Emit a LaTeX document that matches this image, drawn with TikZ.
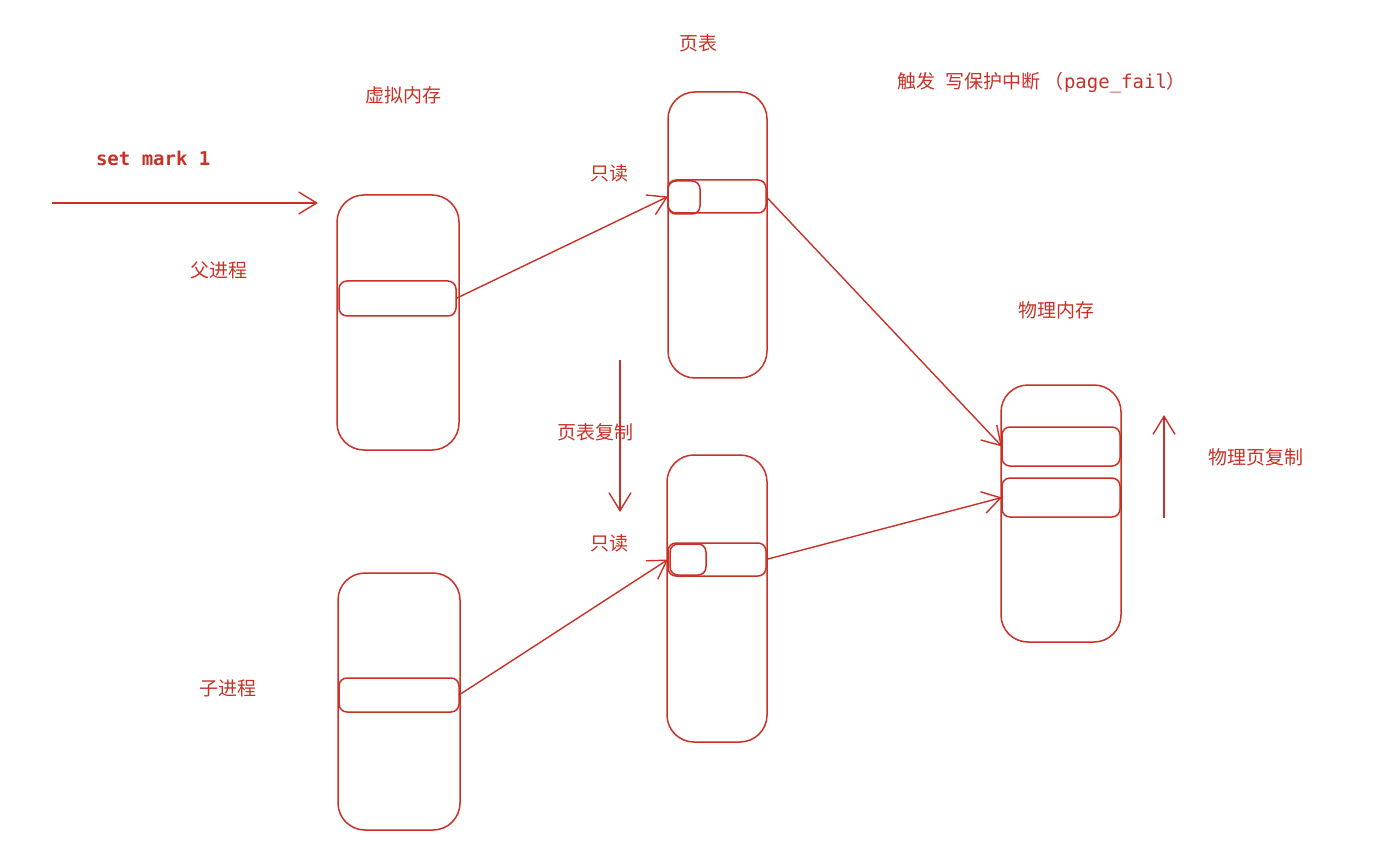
\documentclass[tikz,border=0pt]{standalone}
\usepackage{fontspec}
\newfontfamily\cjk{Noto Sans CJK SC}
\newfontfamily\mono{DejaVu Sans Mono}
\usetikzlibrary{arrows.meta}
\definecolor{ink}{RGB}{201,48,38}

\begin{document}
\begin{tikzpicture}[x=1pt,y=-1pt,
  every node/.style={inner sep=0pt, outer sep=0pt},
  mem/.style={draw=ink, line width=1.5pt, rounded corners=27pt},
  slot/.style={draw=ink, line width=1.5pt, rounded corners=8pt},
  lbl/.style={text=ink, font=\cjk\fontsize{19}{22}\selectfont},
  arr/.style={draw=ink, line width=1.4pt, -{Straight Barb[length=18pt,width=22pt,line width=1.4pt]}}]
\useasboundingbox (0,0) rectangle (1374,850);

% virtual memory
\node[mem, minimum width=122pt, minimum height=255pt] (vpar) at (398,322.5) {};
\node[slot, minimum width=117pt, minimum height=35pt] (vpars) at (397.5,298.5) {};
\node[mem, minimum width=122pt, minimum height=257pt] (vchd) at (399,701.5) {};
\node[slot, minimum width=120pt, minimum height=34pt] (vchds) at (399,695) {};

% page tables
\node[mem, minimum width=99pt, minimum height=286pt] (ptop) at (717.5,235) {};
\node[slot, minimum width=98pt, minimum height=33pt] (ptops) at (717,196.5) {};
\node[slot, minimum width=32pt, minimum height=33pt] (ptopk) at (684,197.5) {};
\node[mem, minimum width=100pt, minimum height=287pt] (pbot) at (717,598.5) {};
\node[slot, minimum width=98pt, minimum height=33pt] (pbots) at (717,559.5) {};
\node[slot, minimum width=36pt, minimum height=31pt] (pbotk) at (688,559.5) {};

% physical memory
\node[mem, minimum width=120pt, minimum height=257pt] (phys) at (1061,513.5) {};
\node[slot, minimum width=118pt, minimum height=39pt] (physa) at (1061,446.5) {};
\node[slot, minimum width=118pt, minimum height=39pt] (physb) at (1061,497.5) {};

% labels
\node[lbl] (tpt) at (698,43) {页表};
\node[lbl] (tvm) at (403,95) {虚拟内存};
\node[lbl, anchor=west] (tfail) at (897,83) {触发\hspace{11pt}写保护中断\hspace{4pt}（{\mono page\_fail}）};
\node[lbl, font=\mono\bfseries\fontsize{19}{22}\selectfont, anchor=west] (tmark) at (96,158) {set mark 1};
\node[lbl] (tro1) at (609,173) {只读};
\node[lbl] (tpar) at (219,270) {父进程};
\node[lbl] (tpm) at (1056,310) {物理内存};
\node[lbl] (tcopy) at (595,432) {页表复制};
\node[lbl] (tro2) at (609,543) {只读};
\node[lbl, anchor=west] (tpcopy) at (1208,457) {物理页复制};
\node[lbl] (tchd) at (228,688) {子进程};

% arrows
\coordinate (min) at (52,203);
\coordinate (mout) at (318,203);
\coordinate (dtop) at (620,360);
\coordinate (dbot) at (620,512);
\coordinate (ubot) at (1164,518);
\coordinate (utop) at (1164,415);
\draw[arr] (min) -- (mout);
\draw[arr] (dtop) -- (dbot);
\draw[arr] (ubot) -- (utop);
\draw[arr] (vpars.east) -- (ptops.west);
\draw[arr] (vchds.east) -- (pbots.west);
\draw[arr] (ptops.east) -- (physa.west);
\draw[arr] (pbots.east) -- (physb.west);
\end{tikzpicture}
\end{document}
